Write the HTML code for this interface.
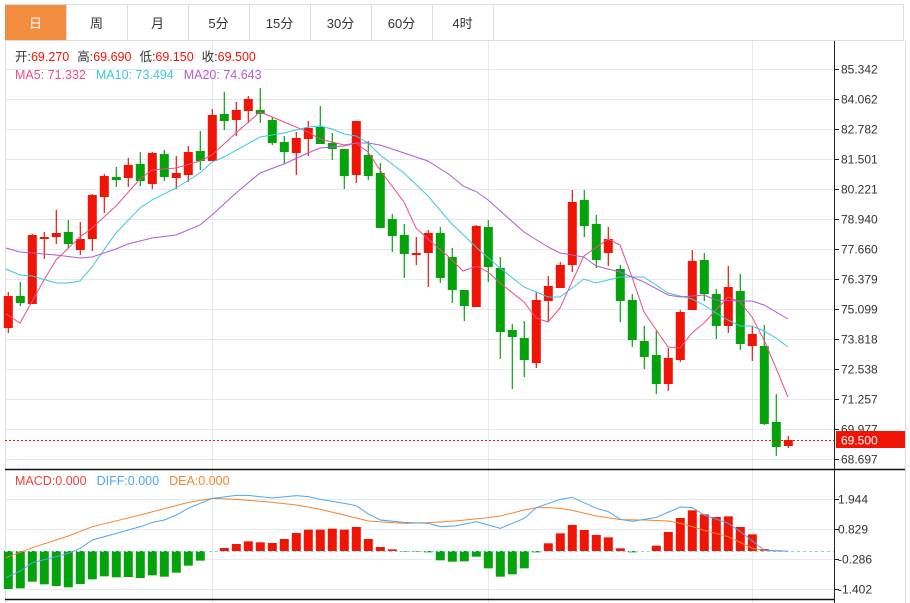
<!DOCTYPE html>
<html><head><meta charset="utf-8"><style>
html,body{margin:0;padding:0;background:#fff;width:910px;height:603px;overflow:hidden}
svg{display:block}
text{font-family:"Liberation Sans","Noto Sans CJK SC",sans-serif}
</style></head><body>
<svg id="s" width="910" height="603" xmlns="http://www.w3.org/2000/svg"></svg>
<script>
var s=document.getElementById('s'),h='';
function L(x1,y1,x2,y2,c,w,d){h+='<line x1="'+x1+'" y1="'+y1+'" x2="'+x2+'" y2="'+y2+'" stroke="'+c+'" stroke-width="'+(w||1)+'"'+(d?' stroke-dasharray="'+d+'"':'')+'/>';}
function R(x,y,w,hh,c){h+='<rect x="'+x+'" y="'+y+'" width="'+w+'" height="'+hh+'" fill="'+c+'"/>';}
function T(x,y,t,c,sz,a){h+='<text x="'+x+'" y="'+y+'" fill="'+c+'" font-size="'+(sz||12)+'"'+(a?' text-anchor="'+a+'"':'')+'>'+t+'</text>';}
function P(pts,c){h+='<polyline fill="none" stroke="'+c+'" stroke-width="1" points="'+pts.map(function(p){return p.join(',')}).join(' ')+'"/>';}
// tabs
L(5,4.5,903,4.5,'#ddd');L(5,40.5,903,40.5,'#ddd');L(903.5,4,903.5,41,'#ddd');
R(5,5,61,35,'#f28c3e');
var tabs=['日','周','月','5分','15分','30分','60分','4时'];
for(var i=0;i<8;i++){var x=5+61*i;if(i>0)L(x+0.5,5,x+0.5,40,'#ddd');T(x+30.5,28,tabs[i],i==0?'#fff':'#333',13,'middle');}
L(493.5,5,493.5,40,'#ddd');
// grid
for(var i=0;i<14;i++){var y=69+30*i+0.5;L(5,y,834,y,'#e3eaf0');}
[499,529,559,589].forEach(function(y){L(5,y+0.5,834,y+0.5,'#e3eaf0');});
[212,488,752].forEach(function(x){L(x+0.5,41,x+0.5,603,'#e3eaf0');});
L(5.5,41,5.5,603,'#ddd');L(905.5,41,905.5,603,'#ddd');
L(834.5,41,834.5,603,'#222');
L(5,469.5,905,469.5,'#111',1.5);L(5,599.5,834,599.5,'#111',1.5);
// axis labels
var lab=['85.342','84.062','82.782','81.501','80.221','78.940','77.660','76.379','75.099','73.818','72.538','71.257','69.977','68.697'];
lab.forEach(function(t,i){var y=69+30*i;L(834,y+0.5,839,y+0.5,'#222');T(841,y+4.5,t,'#333',12);});
[['1.944',499],['0.829',529],['-0.286',559],['-1.402',589]].forEach(function(a){L(834,a[1]+0.5,839,a[1]+0.5,'#222');T(838,a[1]+4.5,a[0],'#333',12);});
// candles [top,bottom,wickTop,wickBot,up]
var C=[[296,328,292,333,1],[296,303,282,306,0],[235,304,234,304,1],[237,239,232,259,1],[233,237,210,244,1],[232,244,220,248,0],[239,250,222,255,1],[195,239,194,251,1],[176,197,174,213,1],[177,180,167,187,0],[165,178,158,187,1],[164,181,152,186,0],[153,184,152,189,1],[154,177,150,181,0],[173,178,156,189,1],[152,175,146,182,1],[151,161,131,170,0],[115,161,109,161,1],[114,121,92,130,0],[110,120,102,136,1],[99,111,96,123,1],[110,114,88,123,0],[120,143,117,145,0],[142,152,136,164,0],[138,153,132,175,1],[128,139,121,156,1],[127,144,106,144,0],[143,149,133,160,0],[149,176,149,189,0],[121,175,121,183,1],[155,176,141,180,0],[173,228,163,228,0],[219,236,214,252,0],[235,254,224,278,0],[253,255,237,265,1],[233,253,230,287,1],[233,278,227,283,0],[257,290,248,303,0],[290,306,290,321,0],[226,307,225,307,1],[227,267,220,282,0],[268,332,257,359,0],[330,337,324,389,0],[338,360,321,377,0],[300,363,292,368,1],[286,301,276,322,1],[265,288,262,288,1],[202,265,190,272,1],[200,226,190,237,0],[224,260,215,268,0],[239,253,227,266,1],[269,301,265,322,0],[300,340,294,347,0],[341,357,326,369,0],[355,384,331,394,0],[358,384,348,391,1],[312,360,310,362,1],[261,310,250,310,1],[260,294,253,301,0],[294,326,289,339,0],[287,326,266,333,1],[291,344,274,350,0],[334,346,326,361,1],[346,424,325,425,0],[422,447,394,456,0],[440,446,436,448,1]];
C.forEach(function(c,i){var x=8.3+12*i,col=c[4]?'#f01405':'#04a20b';L(x,c[2],x,c[3],col,1.2);R(x-4.5,c[0],9,Math.max(1.5,c[1]-c[0]),col);});
// MAs
P([[6,314],[20,323],[44,280],[56,260],[80,237],[92,228],[116,206],[140,179],[152,170],[176,168],[200,161],[212,155],[236,133],[260,112],[284,122],[308,132],[320,139],[344,145],[356,143],[368,152],[380,170],[404,202],[416,228],[428,239],[450,258],[463,271],[477,266],[488,272],[500,283],[524,302],[536,318],[548,322],[560,308],[584,256],[608,239],[620,245],[632,277],[644,312],[668,347],[680,348],[692,333],[704,323],[728,297],[740,302],[752,317],[764,340],[776,368],[788,397]],'#ee4c88');
P([[6,269],[20,275],[32,276],[56,283],[68,283],[80,281],[92,267],[116,233],[140,208],[152,200],[176,188],[200,173],[212,162],[224,157],[260,137],[284,133],[308,127],[320,126],[332,129],[344,134],[356,136],[368,143],[380,155],[404,173],[428,196],[450,222],[477,248],[500,268],[524,287],[548,297],[560,297],[584,279],[596,283],[620,277],[644,277],[668,293],[692,299],[704,305],[716,313],[728,320],[740,326],[752,326],[764,331],[776,338],[788,347]],'#3cc8de');
P([[6,248],[20,252],[44,254],[56,255],[80,258],[92,257],[116,249],[128,244],[152,238],[176,235],[200,225],[212,215],[236,193],[260,173],[284,164],[308,153],[320,148],[344,146],[356,143],[368,143],[380,145],[404,153],[428,161],[450,175],[463,186],[477,192],[488,200],[524,232],[548,247],[560,253],[584,257],[596,266],[620,272],[644,282],[668,295],[680,297],[704,295],[716,300],[740,301],[752,301],[764,305],[788,319]],'#b35bd0');
// last price
L(5,440.5,834,440.5,'#f01405',1,'2,2');
R(836,431,69,17,'#f01405');T(841,444.5,'69.500','#fff',12);
// legend
h+='<text x="15" y="61" font-size="12.5"><tspan fill="#333">开:</tspan><tspan fill="#f01405">69.270</tspan><tspan fill="#333" dx="8">高:</tspan><tspan fill="#f01405">69.690</tspan><tspan fill="#333" dx="8">低:</tspan><tspan fill="#f01405">69.150</tspan><tspan fill="#333" dx="8">收:</tspan><tspan fill="#f01405">69.500</tspan></text>';
h+='<text x="15" y="79" font-size="12.5"><tspan fill="#ee4c88">MA5: 71.332</tspan><tspan fill="#3cc8de" dx="10">MA10: 73.494</tspan><tspan fill="#b35bd0" dx="10">MA20: 74.643</tspan></text>';
h+='<text x="15" y="485" font-size="12.5"><tspan fill="#f0413a">MACD:0.000</tspan><tspan fill="#4ea6f0" dx="10">DIFF:0.000</tspan><tspan fill="#f5852f" dx="10">DEA:0.000</tspan></text>';
// MACD bars (zoom y)
var M=[372,370,350,358,363,367,357,343,334,337,336,339,331,335,323,302,287,258,249,237,229,232,234,222,204,194,194,191,194,186,222,246,253,260,260,262,286,290,289,275,310,335,328,310,262,235,205,180,195,210,217,250,262,258,242,201,159,136,148,156,154,186,208,252,256,257];
M.forEach(function(v,i){var x=8.3+12*i,y=465+v/3,z=551;if(Math.abs(y-z)<0.4)return;var col=y<z?'#f01405':'#04a20b';R(x-4.5,Math.min(y,z),9,Math.abs(y-z),col);});
L(5,551.5,834,551.5,'#8fd3e8',1,'3,3');
function cv(a,ox){return a.map(function(p){return [ox+p[0]/3,465+p[1]/3];});}
var D=cv([[18,338],[61,318],[97,293],[169,275],[205,265],[241,250],[277,225],[349,205],[421,185],[457,172],[493,165],[529,150],[565,130],[601,115],[637,100],[709,91],[745,91],[817,99],[889,92],[925,95],[961,103],[1033,115],[1069,122],[1105,147],[1141,165],[1213,172],[1285,175],[1321,185],[1365,183]],0).concat(cv([[64,170],[136,190],[208,160],[244,128],[316,103],[352,97],[424,130],[460,140],[496,163],[532,169],[604,157],[676,126],[712,128],[748,150],[820,175],[856,200],[892,228],[928,255],[964,258],[1000,258]],455));
var E=cv([[18,278],[97,248],[205,213],[277,185],[421,150],[565,112],[637,100],[709,103],[817,112],[889,120],[961,133],[1033,150],[1105,168],[1213,175],[1285,173],[1365,168]],0).concat(cv([[100,158],[136,153],[208,135],[244,128],[280,128],[316,130],[352,136],[424,153],[496,164],[568,165],[640,168],[676,175],[712,185],[748,196],[820,215],[892,250],[928,256],[964,258],[1000,258]],455));
P(E,'#f5852f');P(D,'#4ea6f0');
s.innerHTML=h;
</script>
</body></html>
